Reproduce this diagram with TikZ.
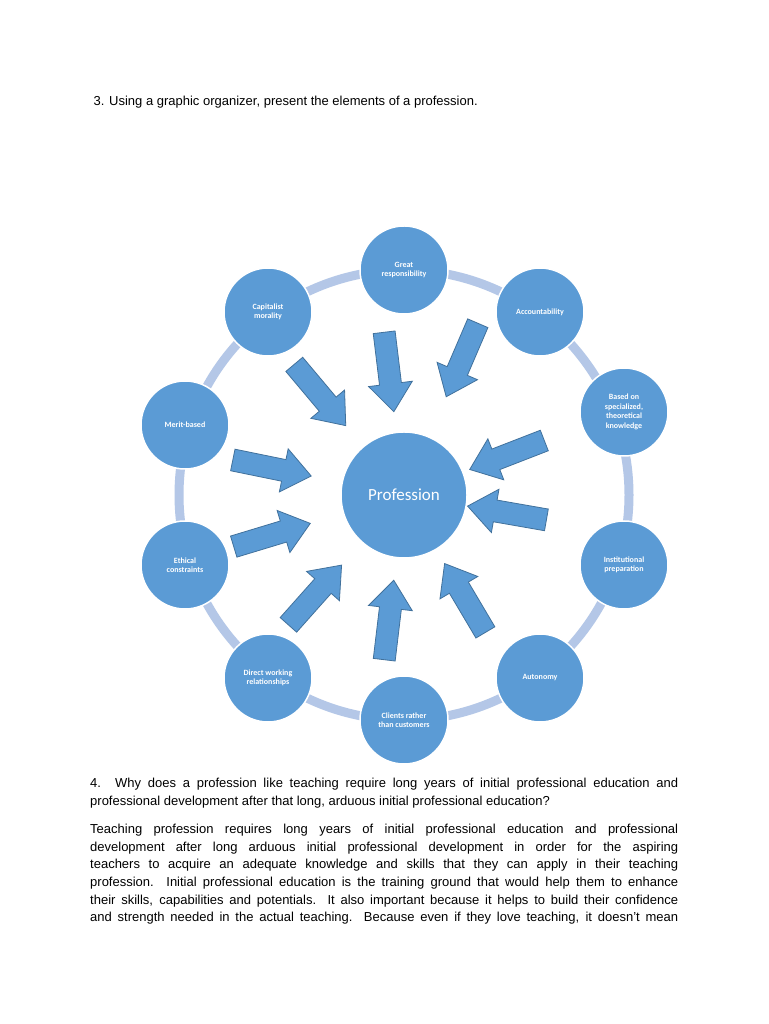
\documentclass[tikz,border=0pt]{standalone}
\usepackage{fontspec}
\setmainfont{Liberation Sans}
\newfontfamily\calib{Carlito}
\begin{document}
\begin{tikzpicture}[x=1pt,y=1pt,
  outer/.style={circle,fill=nodeblue,draw=white,line width=1.5pt,minimum size=88pt,inner sep=0pt,text=white,font=\calib\bfseries\fontsize{8}{9.5}\selectfont,align=center},
  arrowshape/.style={fill=nodeblue,draw=arrowedge,line width=0.8pt}]
\definecolor{nodeblue}{RGB}{91,155,213}
\definecolor{ringblue}{RGB}{180,199,231}
\definecolor{arrowedge}{RGB}{65,113,156}
\useasboundingbox[fill=white] (0,0) rectangle (768,1024);
\node[anchor=base west,font=\fontsize{13}{16}\selectfont] (title) at (90,918) {3. Using a graphic organizer, present the elements of a profession.};
\coordinate (c) at (404,529);
\draw[ringblue,line width=9pt] (c) circle (225);
\node[circle,fill=nodeblue,draw=white,line width=1.5pt,minimum size=126pt,text=white,font=\calib\fontsize{17}{20}\selectfont] (prof) at (c) {Profession};
\node[outer] (n1) at (404,754) {Great\\responsibility};
\node[outer] (n2) at (540,712) {Accountability};
\node[outer] (n3) at (624,612) {Based on\\specialized,\\theoretical\\knowledge};
\node[outer] (n4) at (624,459) {Institutional\\preparation};
\node[outer] (n5) at (540,346) {Autonomy};
\node[outer] (n6) at (404,304) {Clients rather\\than customers};
\node[outer] (n7) at (268,346) {Direct working\\relationships};
\node[outer] (n8) at (185,459) {Ethical\\constraints};
\node[outer] (n9) at (185,599) {Merit-based};
\node[outer] (n10) at (268,712) {Capitalist\\morality};
\foreach \px/\py in {320/395,389/372,462/360,507/455,507/513,465/598,389/620,315/595,272/535,272/468}{
  \pgfmathsetmacro\ang{atan2(529-(1024-\py),404-\px)}
  \begin{scope}[shift={(\px,1024-\py)},rotate=\ang]
    \draw[arrowshape] (-40,-11) -- (12,-11) -- (12,-22) -- (40,0) -- (12,22) -- (12,11) -- (-40,11) -- cycle;
  \end{scope}
}
\node[anchor=north west,text width=588pt,align=justify,inner sep=0pt,font=\fontsize{13}{17.6}\selectfont] (q4) at (90,246) {4. Why does a profession like teaching require long years of initial professional education and\linebreak professional development after that long, arduous initial professional education?};
\node[anchor=north west,text width=588pt,align=justify,inner sep=0pt,font=\fontsize{13}{17.6}\selectfont] (para) at (90,200) {Teaching profession requires long years of initial professional education and professional\linebreak development after long arduous initial professional development in order for the aspiring\linebreak teachers to acquire an adequate knowledge and skills that they can apply in their teaching\linebreak profession. Initial professional education is the training ground that would help them to enhance\linebreak their skills, capabilities and potentials. It also important because it helps to build their confidence\linebreak and strength needed in the actual teaching. Because even if they love teaching, it doesn't mean\linebreak};
\end{tikzpicture}
\end{document}
